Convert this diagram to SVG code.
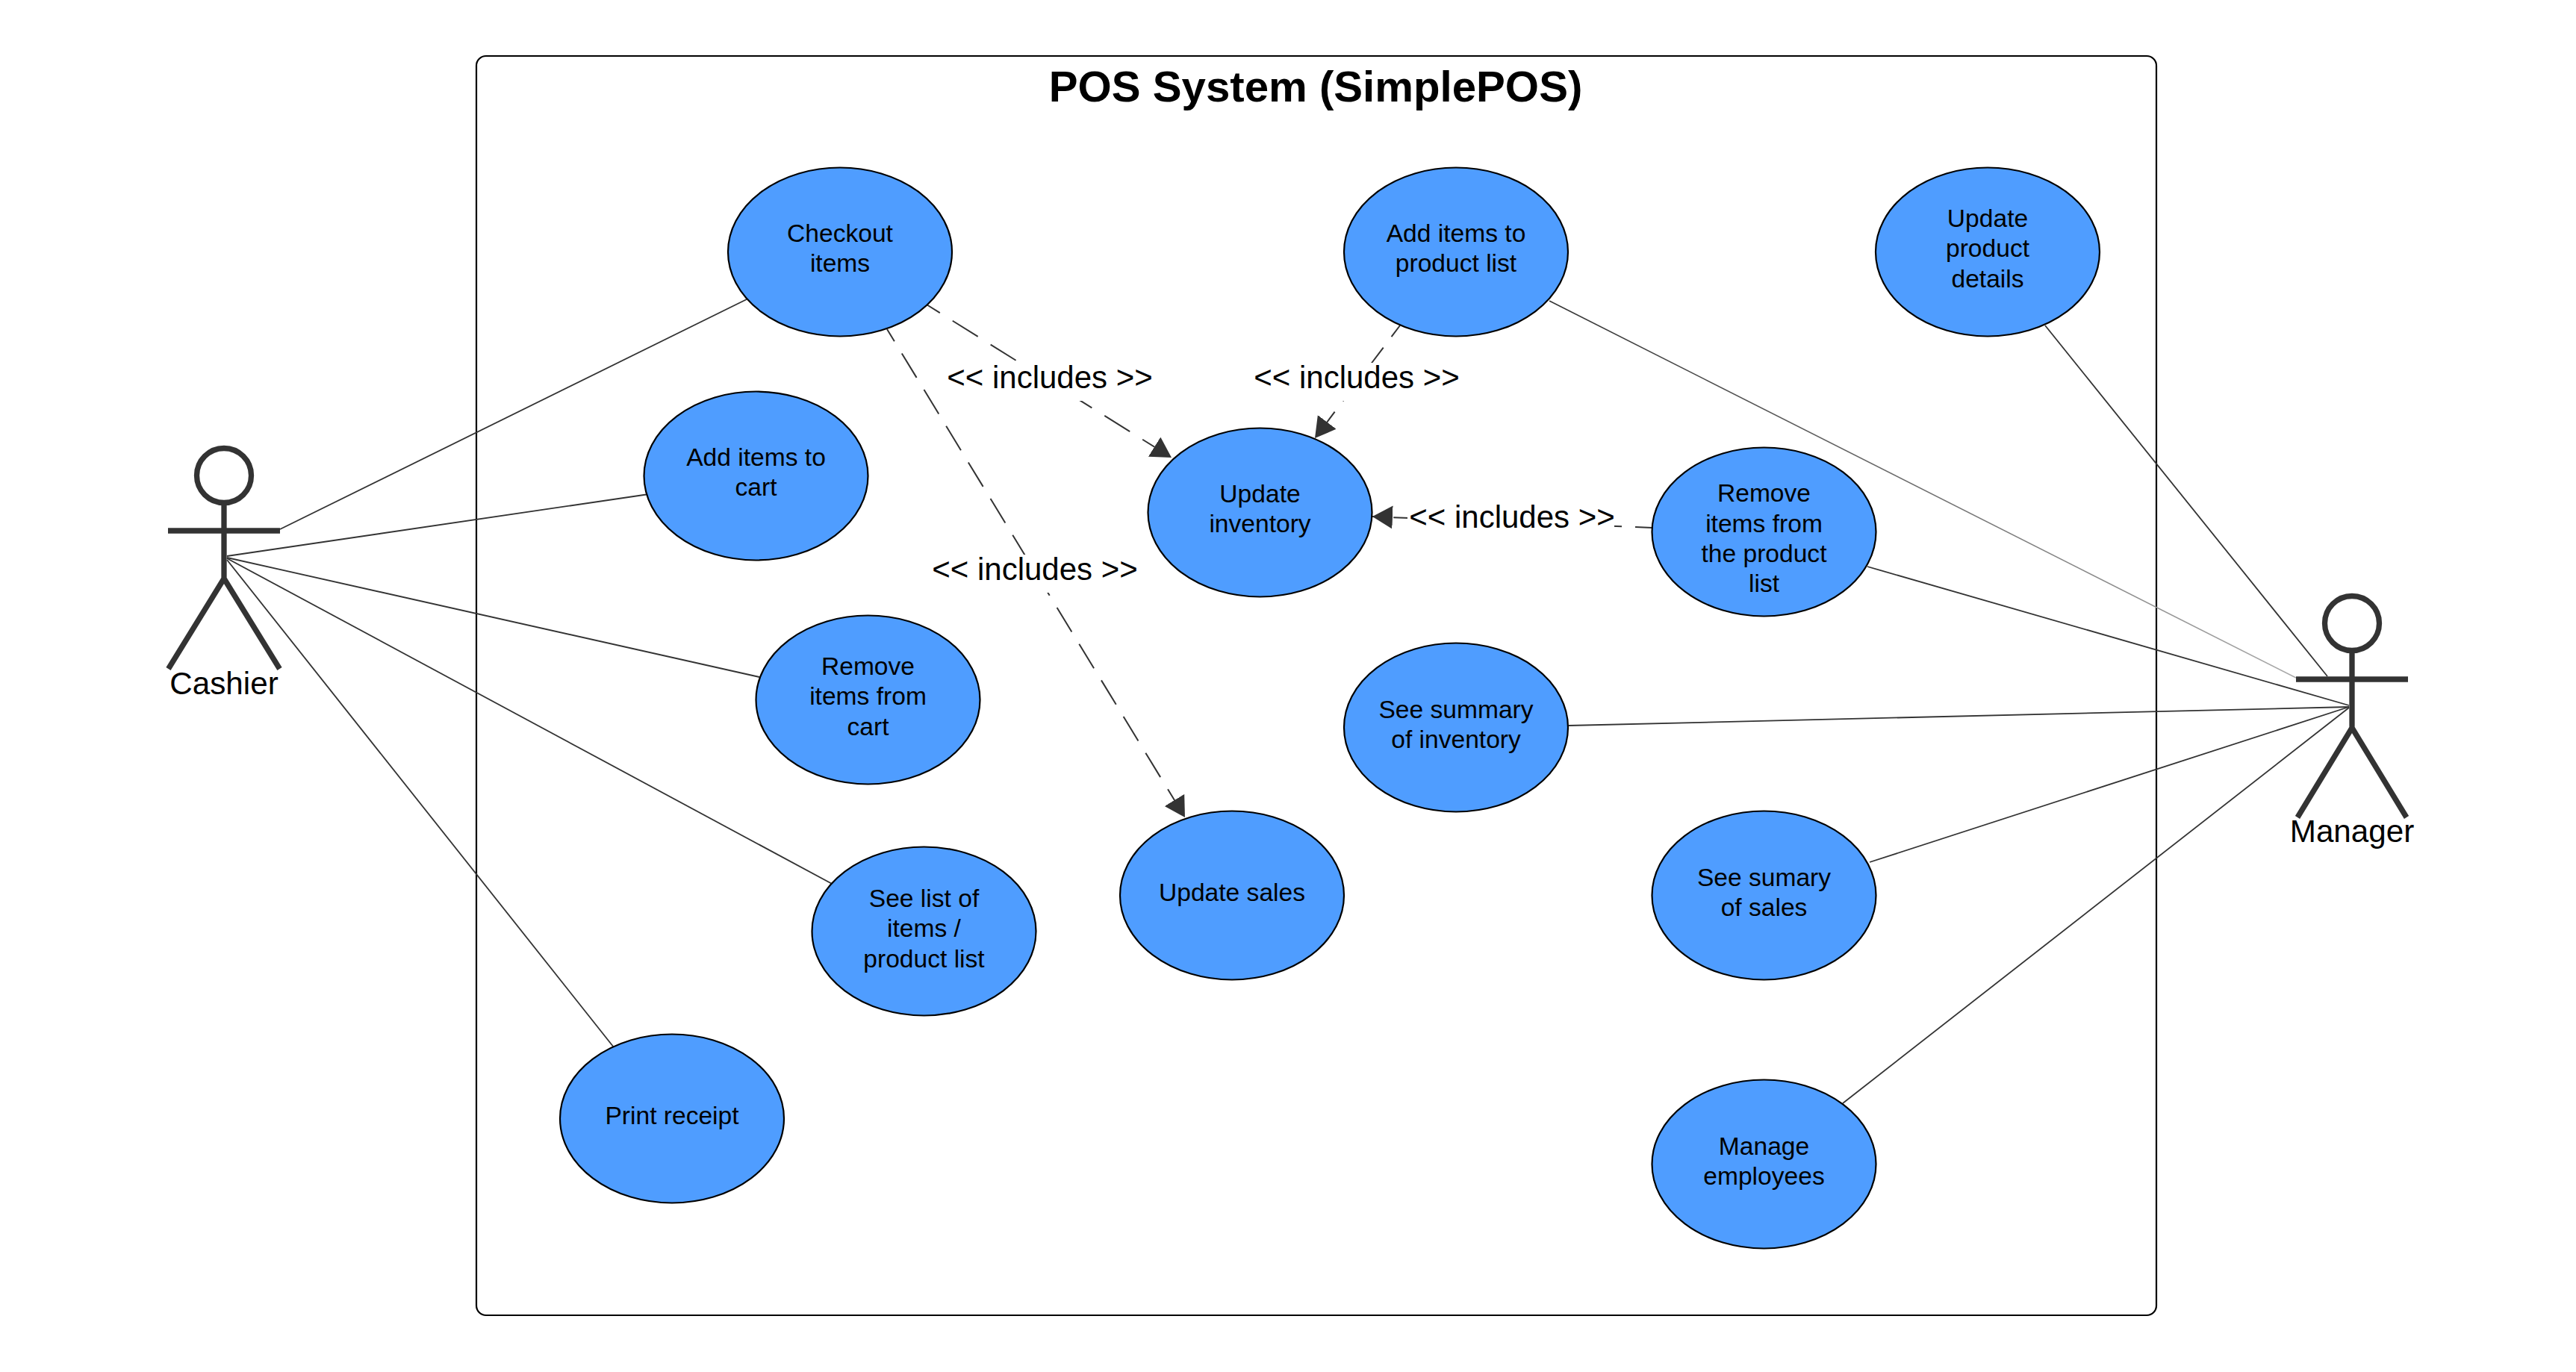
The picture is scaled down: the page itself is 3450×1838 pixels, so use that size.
<svg xmlns="http://www.w3.org/2000/svg" width="3450" height="1838" viewBox="0 0 3450 1838">
<defs>
<style>
text{font-family:"Liberation Sans",Arial,sans-serif;fill:#000;text-anchor:middle}
.uc ellipse{fill:#4f9dff;stroke:#000;stroke-width:2.2}
.uc text{font-size:33.6px}
.actor circle{fill:#fff;stroke:#333;stroke-width:7.3}
.actor path{fill:none;stroke:#333;stroke-width:7.3;stroke-linejoin:round}
.actor text{font-size:42.2px}
.lbl{font-size:42px}
.bg{fill:#fff}
.a{stroke:#333;stroke-width:1.8;fill:none}
.d{stroke:#333;stroke-width:2;fill:none}
</style>
<linearGradient id="fade" gradientUnits="userSpaceOnUse" x1="2075" y1="403" x2="3075" y2="908"><stop offset="0" stop-color="#333"/><stop offset="1" stop-color="#aaa"/></linearGradient>
<marker id="arr" markerUnits="userSpaceOnUse" markerWidth="29" markerHeight="33" refX="27" refY="15.5" orient="auto"><path d="M0 0L27 15.5L0 31Z" fill="#333"/></marker>
</defs>
<rect width="3450" height="1838" fill="#fff"/>
<g id="boundary"><rect x="638" y="75" width="2250" height="1687" rx="13" fill="#fff" stroke="#000" stroke-width="2.2"/><text x="1762" y="136" font-size="58.2" font-weight="bold">POS System (SimplePOS)</text></g>
<g id="connectors">
<path class="a" d="M375 709L1000 401"/>
<path class="a" d="M304 745L869 662"/>
<path class="a" d="M304 747L1017 907"/>
<path class="a" d="M304 748L1118 1186"/>
<path class="a" d="M304 750L822 1403"/>
<path d="M2075 403L3075 908" fill="none" stroke="url(#fade)" stroke-width="1.5"/>
<path class="a" d="M2739 436L3117 906"/>
<path class="a" d="M2501 759L3146 945"/>
<path class="a" d="M2101 972L3146 947"/>
<path class="a" d="M2504 1155L3146 947"/>
<path class="a" d="M2468 1478L3146 948"/>
<path class="d" stroke-dasharray="40 20" stroke-dashoffset="19" d="M1241 408L1569 613" marker-end="url(#arr)"/>
<path class="d" stroke-dasharray="38 19" stroke-dashoffset="19" d="M1188 441L1587 1095" marker-end="url(#arr)"/>
<path class="d" stroke-dasharray="36 18" stroke-dashoffset="17" d="M1875 436L1761 587" marker-end="url(#arr)"/>
<path class="d" stroke-dasharray="36 18" stroke-dashoffset="13" d="M2213 707L1838 692" marker-end="url(#arr)"/>
<rect class="bg" x="1268" y="486" width="276" height="51"/><text class="lbl" x="1406" y="519.5">&lt;&lt; includes &gt;&gt;</text>
<rect class="bg" x="1248" y="743" width="276" height="51"/><text class="lbl" x="1386" y="776.5">&lt;&lt; includes &gt;&gt;</text>
<rect class="bg" x="1679" y="486" width="276" height="51"/><text class="lbl" x="1817" y="519.5">&lt;&lt; includes &gt;&gt;</text>
<rect class="bg" x="1885" y="674" width="277" height="51"/><text class="lbl" x="2025" y="707">&lt;&lt; includes &gt;&gt;</text>
</g>
<g id="cashier" class="actor"><circle cx="300" cy="637" r="36.5"/><path d="M300 673V775L374.5 896M300 775L225.5 896M225 711H375"/><text x="300" y="930">Cashier</text></g>
<g id="manager" class="actor"><circle cx="3150" cy="835" r="36.5"/><path d="M3150 871V975L3223 1095M3150 975L3077 1095M3075 910H3225"/><text x="3150" y="1128">Manager</text></g>
<g id="uc1" class="uc"><ellipse cx="1125" cy="337.5" rx="150" ry="113"/><text x="1125" y="324">Checkout</text><text x="1125" y="364">items</text></g>
<g id="uc2" class="uc"><ellipse cx="1012.5" cy="637.5" rx="150" ry="113"/><text x="1012.5" y="624">Add items to</text><text x="1012.5" y="664">cart</text></g>
<g id="uc3" class="uc"><ellipse cx="1162.5" cy="937.5" rx="150" ry="113"/><text x="1162.5" y="904">Remove</text><text x="1162.5" y="944">items from</text><text x="1162.5" y="985">cart</text></g>
<g id="uc4" class="uc"><ellipse cx="1237.5" cy="1247.5" rx="150" ry="113"/><text x="1237.5" y="1215">See list of</text><text x="1237.5" y="1255">items /</text><text x="1237.5" y="1296">product list</text></g>
<g id="uc5" class="uc"><ellipse cx="900" cy="1498.5" rx="150" ry="113"/><text x="900" y="1506">Print receipt</text></g>
<g id="uc6" class="uc"><ellipse cx="1650" cy="1199.5" rx="150" ry="113"/><text x="1650" y="1207">Update sales</text></g>
<g id="uc7" class="uc"><ellipse cx="1687.5" cy="686.5" rx="150" ry="113"/><text x="1687.5" y="673">Update</text><text x="1687.5" y="713">inventory</text></g>
<g id="uc8" class="uc"><ellipse cx="1950" cy="337.5" rx="150" ry="113"/><text x="1950" y="324">Add items to</text><text x="1950" y="364">product list</text></g>
<g id="uc9" class="uc"><ellipse cx="2662" cy="337.5" rx="150" ry="113"/><text x="2662" y="304">Update</text><text x="2662" y="344">product</text><text x="2662" y="385">details</text></g>
<g id="uc10" class="uc"><ellipse cx="2362.5" cy="712.5" rx="150" ry="113"/><text x="2362.5" y="672">Remove</text><text x="2362.5" y="713">items from</text><text x="2362.5" y="753">the product</text><text x="2362.5" y="793">list</text></g>
<g id="uc11" class="uc"><ellipse cx="1950" cy="974.5" rx="150" ry="113"/><text x="1950" y="962">See summary</text><text x="1950" y="1002">of inventory</text></g>
<g id="uc12" class="uc"><ellipse cx="2362.5" cy="1199.5" rx="150" ry="113"/><text x="2362.5" y="1187">See sumary</text><text x="2362.5" y="1227">of sales</text></g>
<g id="uc13" class="uc"><ellipse cx="2362.5" cy="1559.5" rx="150" ry="113"/><text x="2362.5" y="1547">Manage</text><text x="2362.5" y="1587">employees</text></g>
</svg>
